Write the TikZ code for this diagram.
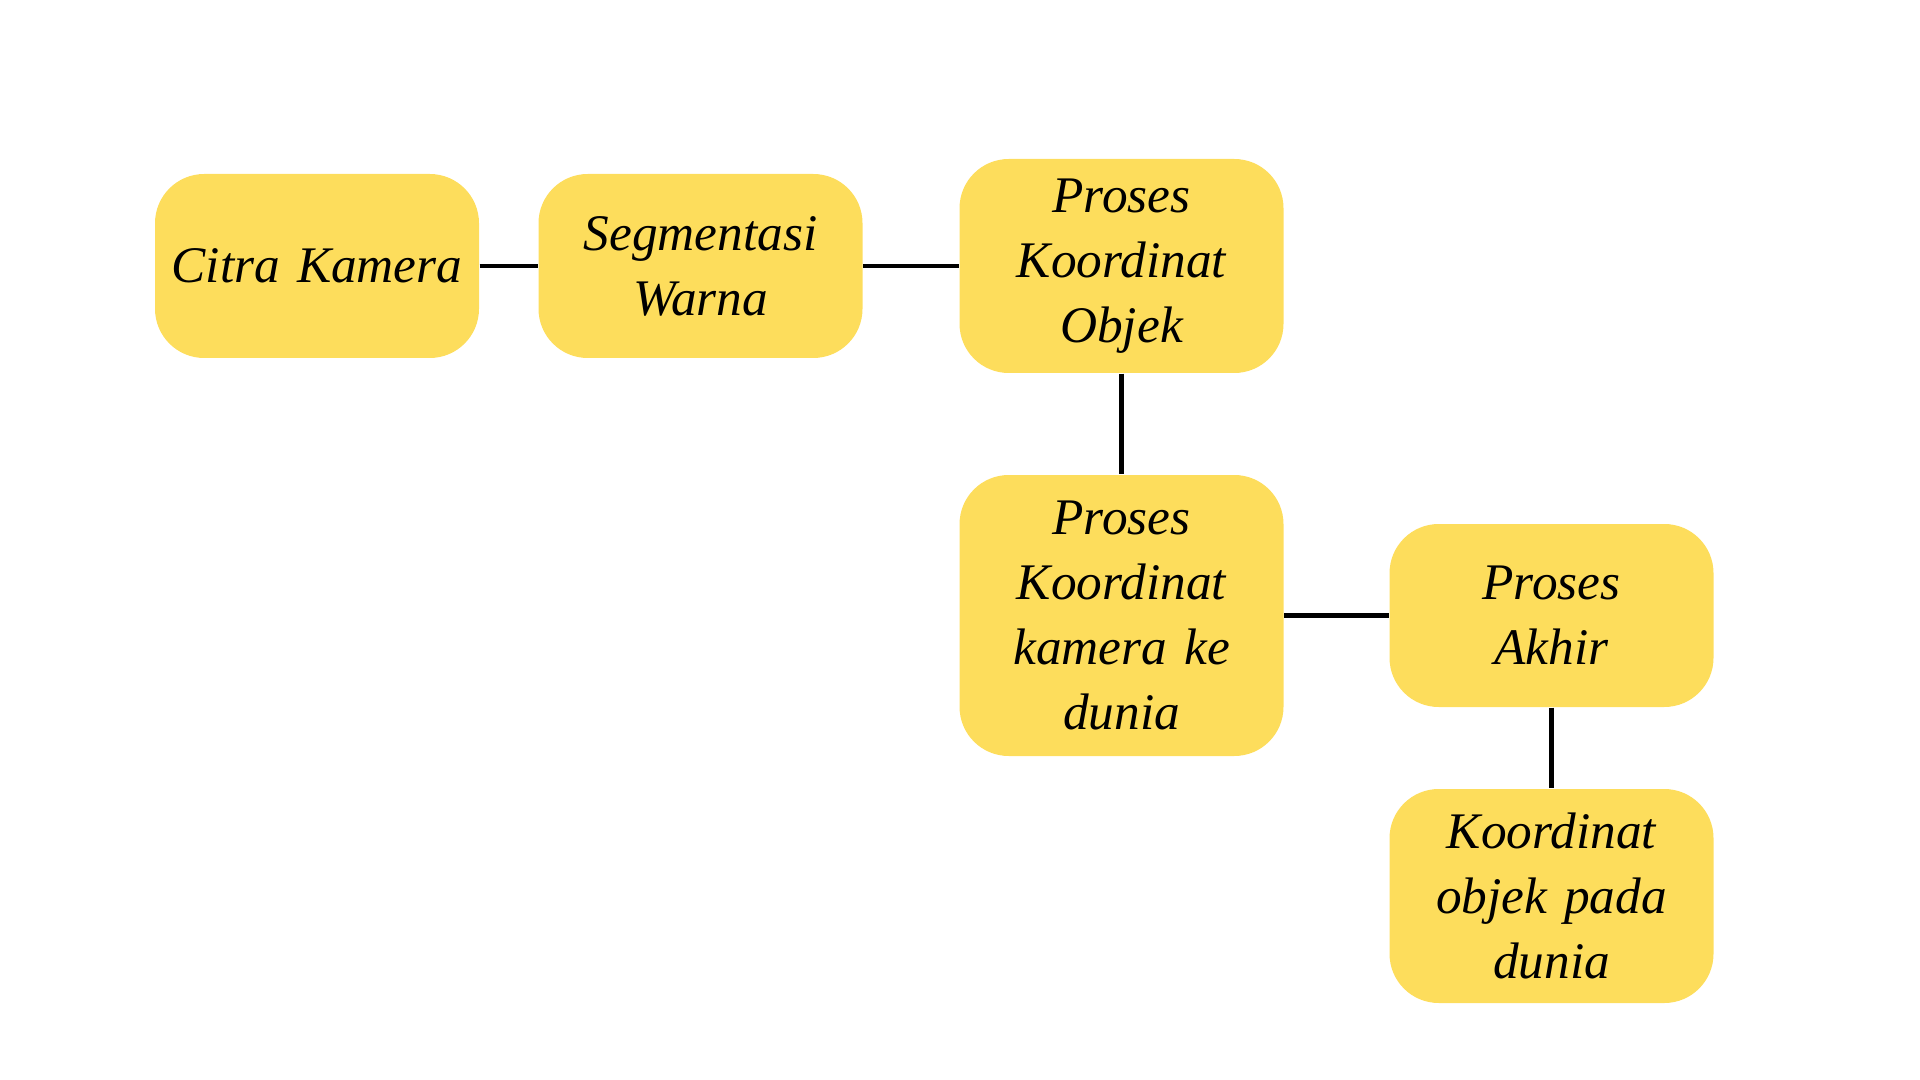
\documentclass[tikz,border=0pt]{standalone}
\usepackage{fontspec}
\setmainfont{Liberation Serif}
\usepackage{tikz}
\usetikzlibrary{positioning}
\definecolor{boxyellow}{HTML}{FDDD5C}

\begin{document}
\begin{tikzpicture}[
    block/.style={rounded corners=14pt, fill=boxyellow, minimum width=3.24cm, text width=3.1cm, align=center, font=\fontsize{14.6}{18.5}\selectfont\itshape, inner sep=0pt},
    link/.style={line width=1.3pt, black},
]
\useasboundingbox (0,0) rectangle (19.2,-10.8);

% first row
\node[block, minimum height=1.84cm] (citra) at (3.17, -2.66) {Citra Kamera};
\node[block, minimum height=1.84cm] (segmen) at (7.005, -2.66) {Segmentasi\\Warna};
\node[block, minimum height=2.14cm] (objek) at (11.215, -2.66) {Proses\\Koordinat\\Objek};

% second row
\node[block, minimum height=2.81cm] (dunia) at (11.215, -6.155) {Proses\\Koordinat\\kamera ke\\dunia};
\node[block, minimum height=1.83cm] (akhir) at (15.515, -6.155) {Proses\\Akhir};

% result
\node[block, minimum height=2.14cm] (hasil) at (15.515, -8.96) {Koordinat\\objek pada\\dunia};

% connectors
\draw[link] (citra.east) -- (segmen.west);
\draw[link] (segmen.east) -- (objek.west);
\draw[link] (objek.south) -- (dunia.north);
\draw[link] (dunia.east) -- (akhir.west);
\draw[link] (akhir.south) -- (hasil.north);

\end{tikzpicture}
\end{document}
